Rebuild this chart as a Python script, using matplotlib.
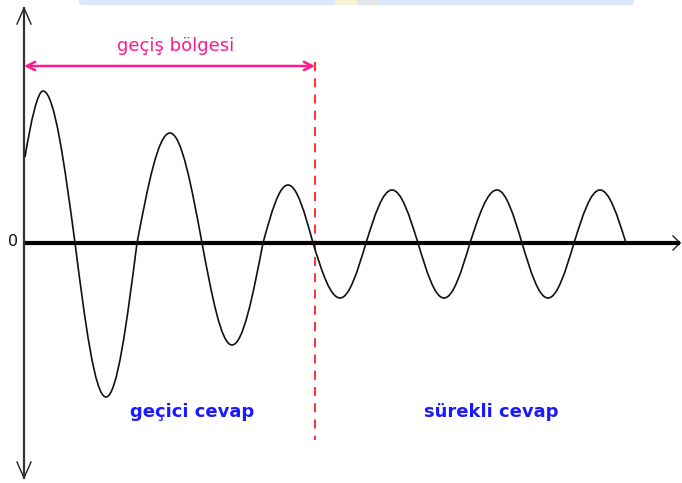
import matplotlib
matplotlib.use("Agg")
import matplotlib.pyplot as plt
from matplotlib.path import Path
from matplotlib.patches import PathPatch, FancyBboxPatch

# Key points of the response curve (time, amplitude): start, then alternating extrema / zero crossings
curve_t = [1, 19, 51, 82, 113, 146, 178, 208, 239, 264, 289, 316, 342, 368, 394, 420, 446, 473, 498, 524, 550, 576, 602]
curve_y = [86, 152, 0, -154, 0, 110, 0, -102, 0, 58, 0, -55, 0, 53, 0, -55, 0, 53, 0, -55, 0, 53, 0]

boundary_t = 291          # end of transient region
label_zero = "0"
label_region = "geçiş bölgesi"
label_transient = "geçici cevap"
label_steady = "sürekli cevap"

fig = plt.figure(figsize=(6.82, 4.83), dpi=100)
ax = fig.add_axes([0, 0, 1, 1])
ax.set_xlim(-24, 658)
ax.set_ylim(-240, 243)
ax.axis("off")

# faint header strip (watermark remnants)
ax.add_patch(FancyBboxPatch((55, 238), 555, 8, boxstyle="round,pad=0,rounding_size=4",
                            fc="#dbe8fa", ec="none", zorder=0))
ax.add_patch(plt.Rectangle((311, 238), 22, 8, fc="#f6f3d8", ec="none", zorder=0))
ax.add_patch(plt.Rectangle((333, 238), 22, 8, fc="#e4e6ea", ec="none", zorder=0))

# axes lines
ax.plot([0, 656], [0, 0], color="black", lw=3.0, solid_capstyle="butt", zorder=3)
ax.plot([656, 649], [0, 7], color="#222222", lw=1.0)
ax.plot([656, 649], [0, -7], color="#222222", lw=1.0)
ax.plot([0, 0], [-235, 235], color="#333333", lw=1.6, zorder=3)
for sgn in (1, -1):
    tip = 235 * sgn
    ax.plot([0, -7], [tip, tip - 16 * sgn], color="#222222", lw=1.0)
    ax.plot([0, 7], [tip, tip - 16 * sgn], color="#222222", lw=1.0)

# curve as smooth cubic segments through the key points
verts = [(curve_t[0], curve_y[0])]
codes = [Path.MOVETO]
for i in range(len(curve_t) - 1):
    x0, y0, x1, y1 = curve_t[i], curve_y[i], curve_t[i + 1], curve_y[i + 1]
    dx, dy = x1 - x0, y1 - y0
    if i == 0:
        c1 = (x0 + dx / 3, y0 + 0.55 * dy)
        c2 = (x0 + 0.7 * dx, y1)
    elif y1 != 0:   # crossing -> extremum
        c1 = (x0 + 0.326 * dx, y0 + 0.5122 * dy)
        c2 = (x0 + 0.638 * dx, y1)
    else:           # extremum -> crossing
        c1 = (x0 + 0.362 * dx, y0)
        c2 = (x0 + 0.674 * dx, y0 + 0.4878 * dy)
    verts += [c1, c2, (x1, y1)]
    codes += [Path.CURVE4] * 3
ax.add_patch(PathPatch(Path(verts, codes), fc="none", ec="#111111", lw=1.2, zorder=4))

# boundary dashed line
ax.plot([boundary_t, boundary_t], [181, -197], color="#ff2020", lw=1.3,
        dashes=(5, 4), zorder=2)

# transient region arrow
ax.annotate("", xy=(0, 177), xytext=(boundary_t, 177),
            arrowprops=dict(arrowstyle="<->,head_length=0.6,head_width=0.3",
                            color="#ff1a8c", lw=1.8, shrinkA=0, shrinkB=0))
ax.text(152, 197, label_region, color="#ff1a8c", fontsize=13, ha="center", va="center",
        family="DejaVu Sans")

ax.text(-11, 1, label_zero, color="#111111", fontsize=11.5, ha="center", va="center",
        family="DejaVu Sans")
ax.text(168, -169, label_transient, color="#1a1aff", fontsize=13, fontweight="bold",
        ha="center", va="center", family="DejaVu Sans")
ax.text(467, -169, label_steady, color="#1a1aff", fontsize=13, fontweight="bold",
        ha="center", va="center", family="DejaVu Sans")

fig.savefig("out.png", dpi=100)
